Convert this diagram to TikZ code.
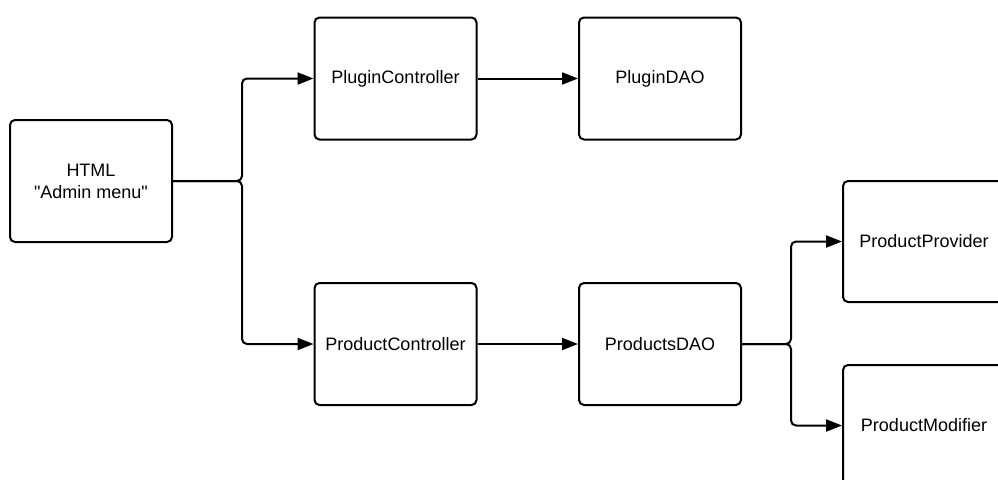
\documentclass[tikz,border=0pt]{standalone}
\usepackage{fontspec}
\setmainfont{Liberation Sans}[Ligatures=TeXOff]
\usetikzlibrary{arrows.meta}
\begin{document}
\begin{tikzpicture}[x=1pt,y=-1pt,
  box/.style={draw=black, line width=2pt, rounded corners=5pt, fill=white,
    minimum width=162pt, minimum height=122pt, inner sep=0pt,
    font=\fontsize{18}{22}\selectfont, align=center},
  conn/.style={draw=black, line width=2pt, rounded corners=5pt,
    -{Triangle[length=16pt,width=12pt]}}]
\useasboundingbox (0,0) rectangle (998,479);
\clip (0,0) rectangle (998,479);
\fill[white] (0,0) rectangle (998,479);
\node[box] (html) at (91,181) {HTML\\"Admin menu"};
\node[box] (pc) at (395.5,78.5) {PluginController};
\node[box] (pdao) at (660,78.5) {PluginDAO};
\node[box] (prc) at (395.5,344) {ProductController};
\node[box] (prdao) at (660,344) {ProductsDAO};
\node[box, minimum height=121pt] (pp) at (924,241.5) {ProductProvider};
\node[box, minimum height=121pt] (pm) at (924,425.5) {ProductModifier};
\coordinate (j1) at (242,181);
\coordinate (j2) at (791,344);
\draw[conn] (html.east) -- (j1) |- (pc.west);
\draw[conn] (html.east) -- (j1) |- (prc.west);
\draw[conn] (pc.east) -- (pdao.west);
\draw[conn] (prc.east) -- (prdao.west);
\draw[conn] (prdao.east) -- (j2) |- (pp.west);
\draw[conn] (prdao.east) -- (j2) |- (pm.west);
\end{tikzpicture}
\end{document}
